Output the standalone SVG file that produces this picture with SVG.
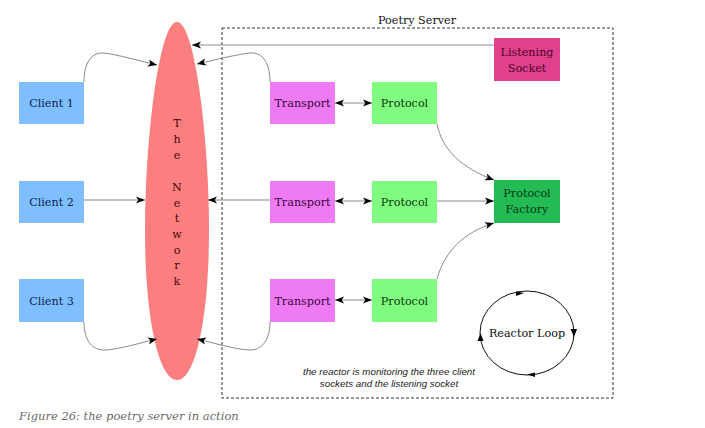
<svg xmlns="http://www.w3.org/2000/svg" width="705" height="428" viewBox="0 0 705 428">
<style>
.lbl{font-family:"DejaVu Serif","Liberation Serif",serif;font-size:11.2px;text-anchor:middle}
.conn{fill:none;stroke:#8a8a8a;stroke-width:1}
.loop{fill:none;stroke:#111;stroke-width:1}
</style>
<defs>
<marker id="ah" viewBox="0 0 10 10" refX="10" refY="5" markerWidth="9" markerHeight="9" markerUnits="userSpaceOnUse" orient="auto-start-reverse">
<path d="M0,1 L10,5 L0,9 L2.5,5 z" fill="#000"/>
</marker>
</defs>
<rect width="705" height="428" fill="#fff"/>
<g id="server">
<rect x="222" y="28" width="391" height="370" fill="none" stroke="#333" stroke-width="1" stroke-dasharray="3,2"/>
<text class="lbl" x="417" y="24" fill="#111">Poetry Server</text>
</g>
<g id="network">
<path d="M177,22 C195,22 209,140 209,230 C209,320 195,380 177,380 C159,380 145,320 145,230 C145,140 159,22 177,22 z" fill="#fb7f7f"/>
<text class="lbl" x="177" fill="#4a0808" font-size="12.5">
<tspan x="177" y="127">T</tspan><tspan x="177" y="143">h</tspan><tspan x="177" y="159">e</tspan><tspan x="177" y="191">N</tspan><tspan x="177" y="207">e</tspan><tspan x="177" y="222">t</tspan><tspan x="177" y="238">w</tspan><tspan x="177" y="254">o</tspan><tspan x="177" y="269">r</tspan><tspan x="177" y="285">k</tspan>
</text>
</g>
<g id="client1"><rect x="19" y="82" width="65" height="42" fill="#7fbfff"/><text class="lbl" x="51.5" y="107" fill="#0d2550">Client 1</text></g>
<g id="client2"><rect x="19" y="181" width="65" height="42" fill="#7fbfff"/><text class="lbl" x="51.5" y="206" fill="#0d2550">Client 2</text></g>
<g id="client3"><rect x="19" y="279" width="65" height="43" fill="#7fbfff"/><text class="lbl" x="51.5" y="305" fill="#0d2550">Client 3</text></g>
<g id="transport1"><rect x="270" y="82" width="65" height="42" fill="#ee7bf3"/><text class="lbl" x="302.5" y="107" fill="#3c0640">Transport</text></g>
<g id="transport2"><rect x="270" y="181" width="65" height="42" fill="#ee7bf3"/><text class="lbl" x="302.5" y="206" fill="#3c0640">Transport</text></g>
<g id="transport3"><rect x="270" y="279" width="65" height="43" fill="#ee7bf3"/><text class="lbl" x="302.5" y="305" fill="#3c0640">Transport</text></g>
<g id="protocol1"><rect x="372" y="82" width="65" height="42" fill="#80fc80"/><text class="lbl" x="404.5" y="107" fill="#0b3a0b">Protocol</text></g>
<g id="protocol2"><rect x="372" y="181" width="65" height="42" fill="#80fc80"/><text class="lbl" x="404.5" y="206" fill="#0b3a0b">Protocol</text></g>
<g id="protocol3"><rect x="372" y="279" width="65" height="43" fill="#80fc80"/><text class="lbl" x="404.5" y="305" fill="#0b3a0b">Protocol</text></g>
<g id="listening"><rect x="494" y="38" width="66" height="43" fill="#e0408c"/><text class="lbl" fill="#4a0626"><tspan x="527" y="56">Listening</tspan><tspan x="527" y="72">Socket</tspan></text></g>
<g id="factory"><rect x="494" y="180" width="66" height="43" fill="#22bb55"/><text class="lbl" fill="#063a14"><tspan x="527" y="197">Protocol</tspan><tspan x="527" y="213">Factory</tspan></text></g>
<g id="reactor">
<ellipse cx="527" cy="333" rx="47" ry="42" class="loop"/>
<path d="M516,291.6 l8,1.4 l-8,3z" fill="#000"/>
<path d="M570.5,329 l3.5,8 l3,-8z" fill="#000"/>
<path d="M535,372.5 l-8,2 l8,2.5z" fill="#000"/>
<path d="M477.5,341 l3,-8 l3,8z" fill="#000"/>
<text class="lbl" x="527" y="337" fill="#111">Reactor Loop</text>
</g>
<g id="note" font-family="'Liberation Sans',Arial,sans-serif" font-size="9.8" font-style="italic" fill="#222" text-anchor="middle">
<text x="389" y="375">the reactor is monitoring the three client</text>
<text x="389" y="387">sockets and the listening socket</text>
</g>
<g id="caption"><text x="19" y="420" font-family="'DejaVu Serif','Liberation Serif',serif" font-style="italic" font-size="11.5" fill="#6a6a6a">Figure 26: the poetry server in action</text></g>
<g id="connectors">
<path class="conn" d="M494,45 L192,45" marker-end="url(#ah)"/>
<path class="conn" d="M84,82 C84,65 90,52 104,53 C115,54 140,61 157,65" marker-end="url(#ah)"/>
<path class="conn" d="M270,82 C270,65 264,52 250,53 C239,54 214,60 197,64" marker-end="url(#ah)"/>
<path class="conn" d="M84,200 L145,200" marker-end="url(#ah)"/>
<path class="conn" d="M270,200 L208,200" marker-end="url(#ah)"/>
<path class="conn" d="M84,322 C84,340 92,351 106,350 C120,349 140,343 157,339" marker-end="url(#ah)"/>
<path class="conn" d="M270,322 C270,340 262,351 248,350 C234,349 214,343 197,339" marker-end="url(#ah)"/>
<path class="conn" d="M335,103 L372,103" marker-start="url(#ah)" marker-end="url(#ah)"/>
<path class="conn" d="M335,201 L372,201" marker-start="url(#ah)" marker-end="url(#ah)"/>
<path class="conn" d="M335,300 L372,300" marker-start="url(#ah)" marker-end="url(#ah)"/>
<path class="conn" d="M437,124 C442,150 462,168 494,180" marker-end="url(#ah)"/>
<path class="conn" d="M437,201 L494,201" marker-end="url(#ah)"/>
<path class="conn" d="M437,279 C445,250 465,232 494,223" marker-end="url(#ah)"/>
</g>
</svg>
